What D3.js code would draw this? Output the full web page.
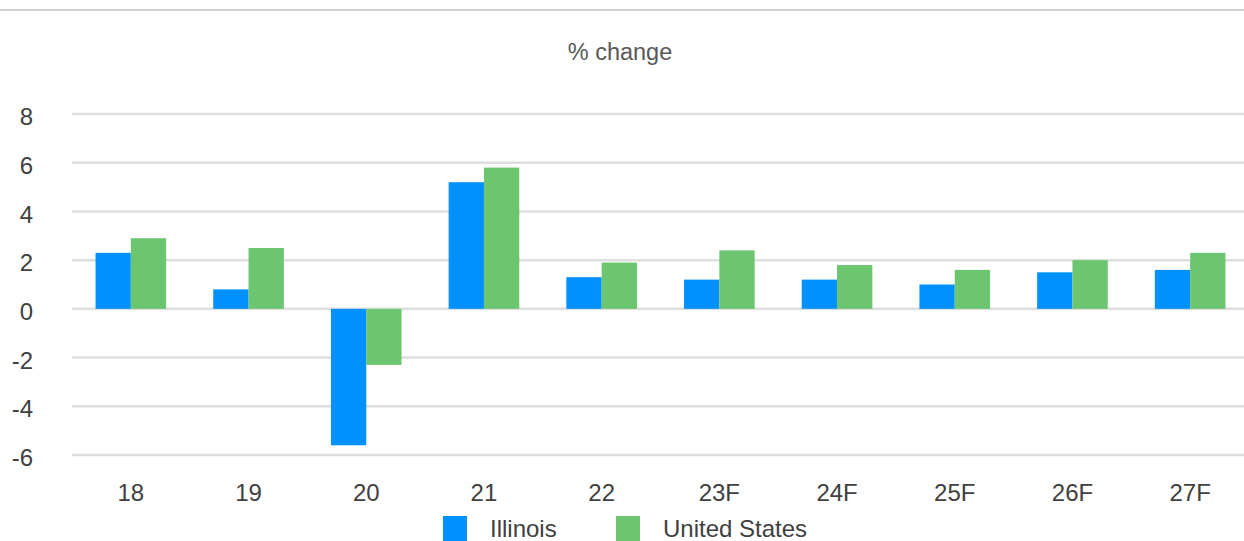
<!DOCTYPE html>
<html>
<head>
<meta charset="utf-8">
<script src="https://cdn.jsdelivr.net/npm/d3@7"></script>
<style>
  body { margin: 0; background: #fff; }
  svg { display: block; font-family: "Liberation Sans", Arial, sans-serif; }
</style>
</head>
<body>
<div id="chart"></div>
<script>
// data
const years = ["18", "19", "20", "21", "22", "23F", "24F", "25F", "26F", "27F"];
const illinois = [2.3, 0.8, -5.6, 5.2, 1.3, 1.2, 1.2, 1.0, 1.5, 1.6];
const unitedStates = [2.9, 2.5, -2.3, 5.8, 1.9, 2.4, 1.8, 1.6, 2.0, 2.3];
const yTicks = [-6, -4, -2, 0, 2, 4, 6, 8];
const seriesNames = ["Illinois", "United States"];
const colors = ["#0091ff", "#6cc56f"];

const width = 1244, height = 541;

const svg = d3.select("#chart").append("svg")
  .attr("width", width).attr("height", height);

// thin frame line across the top
svg.append("line")
  .attr("x1", 0).attr("x2", width).attr("y1", 10).attr("y2", 10)
  .attr("stroke", "#cfcfcf").attr("stroke-width", 2);

svg.append("text")
  .attr("x", 620).attr("y", 60)
  .attr("text-anchor", "middle")
  .attr("font-size", 23.5).attr("fill", "#595959")
  .text("% change");

var x = d3.scaleBand().domain(years).range([72, 1249])
  .paddingInner(0.4).paddingOuter(0.2);
var xs = d3.scaleBand().domain(seriesNames).range([0, x.bandwidth()]);
var y = d3.scaleLinear().domain([-6, 8]).range([455, 114]);

// gridlines
svg.append("g").selectAll("line").data(yTicks).join("line")
  .attr("x1", 72).attr("x2", width)
  .attr("y1", d => y(d)).attr("y2", d => y(d))
  .attr("stroke", "#dedede").attr("stroke-width", 2.5);

// y axis labels (plain hyphen for negatives, like the original)
var yAxis = svg.append("g")
  .attr("transform", "translate(33,3)")
  .call(d3.axisLeft(y).tickValues(yTicks).tickFormat(d => String(d)).tickSize(0).tickPadding(0));
yAxis.select(".domain").remove();
yAxis.selectAll("text")
  .attr("font-size", 24).attr("fill", "#404040")
  .attr("font-family", "Liberation Sans, Arial, sans-serif");

// x axis labels
var xAxis = svg.append("g")
  .attr("transform", "translate(0,484)")
  .call(d3.axisBottom(x).tickSize(0).tickPadding(0));
xAxis.select(".domain").remove();
xAxis.selectAll("text")
  .attr("font-size", 24).attr("fill", "#404040")
  .attr("font-family", "Liberation Sans, Arial, sans-serif");

// bars
var rows = years.map((yr, i) => ({ year: yr, vals: [illinois[i], unitedStates[i]] }));
var groups = svg.append("g").selectAll("g").data(rows).join("g")
  .attr("transform", d => "translate(" + x(d.year) + ",0)");

groups.selectAll("rect")
  .data(d => d.vals.map((v, k) => ({ name: seriesNames[k], v: v, k: k })))
  .join("rect")
  .attr("x", d => xs(d.name))
  .attr("width", xs.bandwidth())
  .attr("y", d => y(Math.max(0, d.v)))
  .attr("height", d => Math.abs(y(d.v) - y(0)))
  .attr("fill", d => colors[d.k]);

// legend
var legendX = [443, 616];
var legend = svg.append("g").selectAll("g").data(seriesNames).join("g")
  .attr("transform", (d, i) => "translate(" + legendX[i] + ",516)");
legend.append("rect")
  .attr("width", 24).attr("height", 30)
  .attr("fill", (d, i) => colors[i]);
legend.append("text")
  .attr("x", 47).attr("y", 21)
  .attr("font-size", 24).attr("fill", "#404040")
  .text(d => d);
</script>
</body>
</html>
